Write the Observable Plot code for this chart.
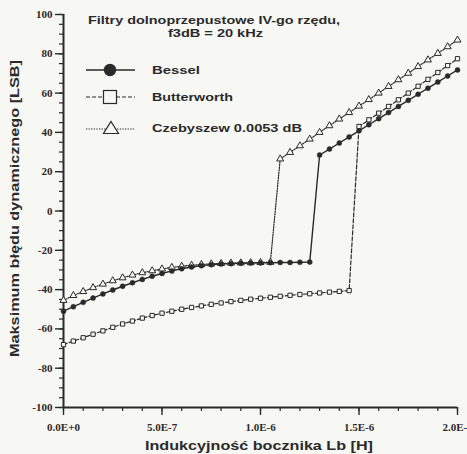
<!DOCTYPE html>
<html><head><meta charset="utf-8">
<script src="https://cdn.jsdelivr.net/npm/d3@7"></script>
<script src="https://cdn.jsdelivr.net/npm/@observablehq/plot@0.6"></script>
<style>
html,body{margin:0;padding:0;background:#f7f7f4;overflow:hidden}
#chart{width:467px;height:454px}
</style></head><body><div id="chart"></div>
<script>
// x values in units of 1e-6 H
const xGrid = [0,0.05,0.1,0.15,0.2,0.25,0.3,0.35,0.4,0.45,0.5,0.55,0.6,0.65,0.7,0.75,0.8,0.85,0.9,0.95,1.0,
  1.05,1.1,1.15,1.2,1.25,1.3,1.35,1.4,1.45,1.5,1.55,1.6,1.65,1.7,1.75,1.8,1.85,1.9,1.95,2.0];
const besselY = [-51,-48.7,-46.5,-44.3,-42.2,-40.2,-38.3,-36.5,-34.8,-33.2,-31.8,-30.5,-29.4,-28.5,-27.8,-27.3,-27,-26.8,-26.6,-26.5,-26.4,
  -26.3,-26.2,-26.2,-26.1,-26,28.5,31.5,34.6,37.7,40.8,43.9,47,50.1,53.2,56.3,59.4,62.5,65.6,68.7,71.8];
const butterY = [-68,-66.2,-64.5,-62.7,-61,-59.2,-57.5,-56,-54.5,-53.2,-52,-51,-50,-49.1,-48.3,-47.5,-46.8,-46.1,-45.5,-44.9,-44.4,
  -43.9,-43.4,-42.9,-42.5,-42.1,-41.7,-41.3,-40.9,-40.5,43,46.4,49.8,53.2,56.6,60,63.5,67,70.5,74,77.5];
const czebY = [-45.5,-43,-41,-39,-37.2,-35.5,-34,-32.6,-31.4,-30.4,-29.5,-28.7,-28.1,-27.6,-27.2,-26.9,-26.7,-26.5,-26.4,-26.3,-26.2,
  -26.1,26.5,29.8,33.2,36.6,40,43.4,46.8,50.1,53.4,56.7,60,63.4,66.8,70.1,73.5,76.9,80.2,83.6,87];
const seriesNames = ["Bessel","Butterworth","Czebyszew 0.0053 dB"];
const yTicks = [-100,-80,-60,-40,-20,0,20,40,60,80,100];
const xMajorTicks = [0,0.5,1.0,1.5,2.0];
const xTickLabels = ["0.0E+0","5.0E-7","1.0E-6","1.5E-6","2.0E-6"];
const titleLines = ["Filtry dolnoprzepustowe IV-go rzędu,","f3dB = 20 kHz"];
const xLabel = "Indukcyjność bocznika Lb [H]";
const yLabel = "Maksimum błędu dynamicznego [LSB]";

const toRows = ys => xGrid.map((x,i)=>({x, y: ys[i]}));
const bessel = toRows(besselY), butter = toRows(butterY), czeb = toRows(czebY);
const ink = "#2a2a2a";
const bg = "#f7f7f4";

const plot = Plot.plot({
  width:467, height:454,
  marginLeft:63, marginRight:10, marginTop:14, marginBottom:47,
  x:{domain:[0,2]}, y:{domain:[-100,100]},
  style:{background:"transparent", fontFamily:"'Liberation Serif', serif", fontSize:"11px", fontWeight:"bold", color:"#2a2a2a", overflow:"hidden"},
  marks:[
    Plot.axisY({ticks: yTicks, tickSize:8, tickPadding:3, tickFormat:d=>String(d), label:null, strokeWidth:1.4}),
    Plot.axisY({ticks: d3.range(-100,101,5), tickSize:4, tickFormat:()=>"", label:null, strokeWidth:1.2}),
    Plot.axisX({ticks: xMajorTicks, tickSize:8, tickPadding:8, tickFormat:d=>xTickLabels[xMajorTicks.indexOf(d)], label:null, strokeWidth:1.4}),
    Plot.axisX({ticks: d3.range(0,21,1).map(d=>d/10), tickSize:4, tickFormat:()=>"", label:null, strokeWidth:1.2}),
    Plot.ruleX([0], {y1:-100, y2:100, stroke:"#2a2a2a", strokeWidth:2}),
    Plot.ruleY([-100], {x1:0, x2:2, stroke:"#2a2a2a", strokeWidth:2}),
    Plot.line(bessel, {x:"x", y:"y", stroke:ink, strokeWidth:1.4}),
    Plot.line(butter, {x:"x", y:"y", stroke:ink, strokeWidth:1.2, strokeDasharray:"4,2"}),
    Plot.line(czeb, {x:"x", y:"y", stroke:ink, strokeWidth:1.2, strokeDasharray:"1.3,1.3"}),
    Plot.dot(butter, {x:"x", y:"y", symbol:"square", r:2.4, fill:bg, stroke:ink, strokeWidth:1}),
    Plot.dot(czeb, {x:"x", y:"y", symbol:"triangle", r:2.6, fill:bg, stroke:ink, strokeWidth:1}),
    Plot.dot(bessel, {x:"x", y:"y", r:2.5, fill:ink, stroke:ink, strokeWidth:0.5})
  ]
});
document.getElementById("chart").appendChild(plot);

const svg = d3.select(plot);
const sans = "'Liberation Sans', Arial, sans-serif";
function txt(s, x, y, len, size){
  return svg.append("text").text(s).attr("x",x).attr("y",y)
    .attr("font-family",sans).attr("font-weight","bold").attr("font-size",size)
    .attr("fill","#2a2a2a").attr("text-anchor","start")
    .attr("textLength",len).attr("lengthAdjust","spacingAndGlyphs");
}
// title
txt(titleLines[0], 88, 24, 252, 11);
txt(titleLines[1], 168, 37, 95, 11);
// legend
const lg = svg.append("g");
lg.append("line").attr("x1",86).attr("x2",135).attr("y1",70).attr("y2",70).attr("stroke",ink).attr("stroke-width",1.5);
lg.append("circle").attr("cx",110).attr("cy",70).attr("r",6.2).attr("fill",ink);
lg.append("line").attr("x1",86).attr("x2",135).attr("y1",97).attr("y2",97).attr("stroke",ink).attr("stroke-width",1.2).attr("stroke-dasharray","4,2");
lg.append("rect").attr("x",103.5).attr("y",90.5).attr("width",13).attr("height",13).attr("fill",bg).attr("stroke",ink).attr("stroke-width",1.2);
lg.append("line").attr("x1",86).attr("x2",135).attr("y1",129).attr("y2",129).attr("stroke",ink).attr("stroke-width",1.2).attr("stroke-dasharray","1.3,1.3");
lg.append("path").attr("d","M111,121.5 L118.5,133.5 L103.5,133.5 Z").attr("fill",bg).attr("stroke",ink).attr("stroke-width",1.2);
txt(seriesNames[0], 152, 74, 48, 11);
txt(seriesNames[1], 152, 101, 81, 11);
txt(seriesNames[2], 152, 132, 150, 11);
// axis labels
txt(xLabel, 145, 450, 228, 12.5);
svg.append("text").text(yLabel)
  .attr("transform","translate(19,357) rotate(-90)")
  .attr("text-anchor","start")
  .attr("font-family",sans).attr("font-weight","bold").attr("font-size",12.5)
  .attr("fill","#2a2a2a").attr("textLength",297).attr("lengthAdjust","spacingAndGlyphs");
</script>
</body></html>
